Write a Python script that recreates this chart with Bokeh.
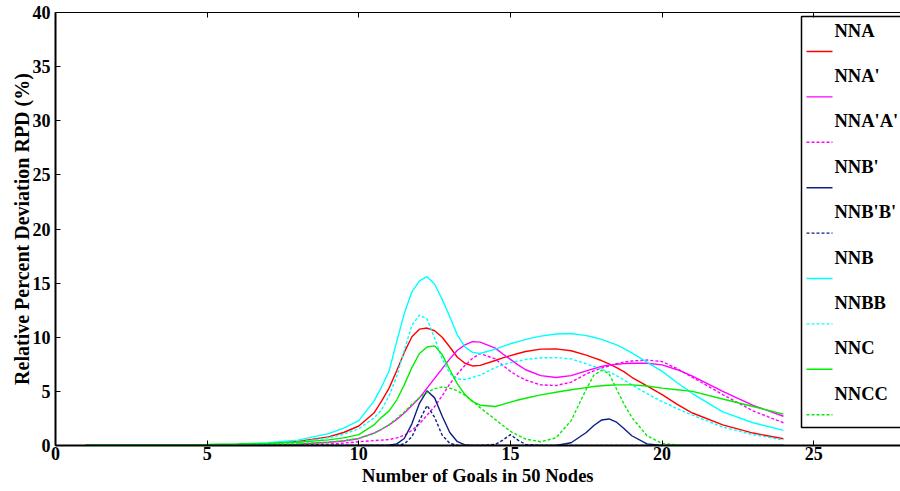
from bokeh.plotting import figure
from bokeh.models import Range1d, LinearAxis, FixedTicker, Label
from bokeh.embed import file_html
from bokeh.resources import INLINE

# Number of goals (shared sample positions for every series)
goals = [1, 2, 3, 4, 5, 6, 7, 8, 9, 9.5, 10, 10.5, 10.75, 11, 11.25, 11.5, 11.75,
         12, 12.25, 12.5, 12.75, 13, 13.25, 13.5, 13.75, 14, 14.5, 14.75, 15, 15.25,
         15.5, 16, 16.5, 17, 17.5, 17.75, 18, 18.25, 18.5, 18.75, 19, 19.5, 20, 20.5,
         21, 22, 23, 24]

# Relative percent deviation (%) per method
nna = [0.01, 0.01, 0.02, 0.03, 0.05, 0.09, 0.18, 0.38, 0.8, 1.2, 1.8, 3.0, 4.1, 5.3,
       6.9, 8.6, 10.05, 10.75, 10.85, 10.6, 10.0, 9.1, 8.15, 7.6, 7.35, 7.4, 7.85, 8.1,
       8.3, 8.5, 8.68, 8.9, 8.93, 8.75, 8.35, 8.1, 7.85, 7.55, 7.2, 6.8, 6.3, 5.5, 4.7,
       3.8, 3.0, 1.9, 1.15, 0.62]
nna_p = [0.0, 0.0, 0.01, 0.01, 0.02, 0.03, 0.06, 0.13, 0.3, 0.42, 0.65, 1.15, 1.5, 1.9,
         2.4, 3.0, 3.7, 4.4, 5.3, 6.2, 7.1, 8.0, 8.8, 9.3, 9.6, 9.55, 9.0, 8.45, 7.95,
         7.45, 7.0, 6.45, 6.28, 6.45, 6.9, 7.1, 7.3, 7.42, 7.5, 7.56, 7.6, 7.6, 7.45,
         7.0, 6.4, 5.0, 3.7, 2.7]
nna_pp = [0.0, 0.0, 0.0, 0.01, 0.01, 0.01, 0.02, 0.05, 0.13, 0.22, 0.35, 0.45, 0.5,
          0.55, 0.7, 0.95, 1.4, 2.0, 2.8, 3.6, 4.6, 5.7, 6.6, 7.4, 8.05, 8.5, 8.0, 7.4,
          6.85, 6.4, 6.05, 5.6, 5.54, 5.85, 6.6, 6.9, 7.15, 7.35, 7.55, 7.7, 7.8, 7.9,
          7.75, 7.1, 6.3, 4.7, 3.2, 2.1]
nnb_p = [0, 0, 0, 0, 0, 0, 0, 0, 0, 0, 0, 0, 0, 0.02, 0.15, 0.65, 2.0, 3.9, 5.05, 4.4,
         2.7, 1.2, 0.35, 0.05, 0, 0, 0, 0, 0, 0, 0, 0, 0, 0.25, 1.2, 1.85, 2.35, 2.45,
         2.15, 1.55, 0.9, 0.15, 0, 0, 0, 0, 0, 0]
nnb_pp = [0, 0, 0, 0, 0, 0, 0, 0, 0, 0, 0, 0, 0, 0, 0, 0.15, 0.8, 2.3, 3.7, 2.6, 0.95,
          0.2, 0.02, 0, 0, 0, 0.1, 0.5, 1.0, 0.5, 0.1, 0, 0, 0, 0, 0, 0, 0, 0, 0, 0, 0,
          0, 0, 0, 0, 0, 0]
nnb = [0.02, 0.02, 0.03, 0.05, 0.08, 0.13, 0.25, 0.5, 1.1, 1.6, 2.3, 4.1, 5.4, 6.9, 9.6,
       12.2, 14.2, 15.2, 15.6, 14.9, 13.5, 11.9, 10.2, 9.1, 8.6, 8.5, 8.9, 9.15, 9.4,
       9.6, 9.8, 10.1, 10.3, 10.35, 10.15, 10.0, 9.8, 9.55, 9.3, 8.95, 8.55, 7.7, 6.85,
       5.8, 4.8, 3.1, 2.1, 1.4]
nnbb = [0.01, 0.01, 0.02, 0.03, 0.05, 0.08, 0.16, 0.33, 0.7, 1.05, 1.55, 2.55, 3.3, 4.6,
        6.4, 8.8, 11.1, 12.05, 11.7, 9.9, 8.0, 6.65, 6.15, 6.1, 6.28, 6.5, 7.2, 7.45,
        7.65, 7.8, 7.95, 8.1, 8.12, 8.0, 7.55, 7.3, 7.05, 6.8, 6.45, 6.05, 5.6, 4.8,
        4.05, 3.4, 2.8, 1.7, 1.0, 0.52]
nnc = [0.02, 0.03, 0.04, 0.06, 0.09, 0.14, 0.2, 0.3, 0.52, 0.7, 1.0, 1.9, 2.6, 3.2, 4.2,
       5.6, 7.2, 8.5, 9.1, 9.2, 8.4, 7.0, 5.7, 4.7, 4.05, 3.72, 3.6, 3.8, 4.0, 4.2, 4.37,
       4.68, 4.92, 5.15, 5.35, 5.45, 5.52, 5.57, 5.6, 5.6, 5.6, 5.5, 5.3, 5.15, 5.0,
       4.3, 3.6, 2.9]
nncc = [0.01, 0.01, 0.02, 0.02, 0.03, 0.05, 0.08, 0.15, 0.3, 0.45, 0.65, 1.1, 1.5, 1.9,
        2.5, 3.1, 3.8, 4.4, 4.9, 5.25, 5.4, 5.3, 5.05, 4.65, 4.1, 3.5, 2.4, 1.85, 1.3,
        0.95, 0.6, 0.35, 0.7, 2.3, 5.2, 6.5, 6.95, 6.65, 5.2, 3.8, 2.6, 0.9, 0.2, 0.05,
        0.02, 0.01, 0.01, 0.01]

names = ["NNA", "NNA'", "NNA'A'", "NNB'", "NNB'B'", "NNB", "NNBB", "NNC", "NNCC"]
values = [nna, nna_p, nna_pp, nnb_p, nnb_pp, nnb, nnbb, nnc, nncc]
colors = ["#ff0000", "#ff00ff", "#ff00ff", "#0d1f85", "#0d1f85",
          "#00ffff", "#00ffff", "#00ee00", "#00ee00"]
dashes = ["solid", "solid", "3 2", "solid", "3 2", "solid", "3 2", "solid", "3 2"]

x_ticks = [0, 5, 10, 15, 20, 25]
y_ticks = [0, 5, 10, 15, 20, 25, 30, 35, 40]

FONT = "Liberation Serif"
W, H = 900, 491
LEFT, RIGHT, TOP, BOTTOM = 55, 0, 12, 46
X_END = 27.86
Y_END = 40
frame_w = W - LEFT - RIGHT
frame_h = H - TOP - BOTTOM

p = figure(width=W, height=H, output_backend="svg", toolbar_location=None,
           x_range=Range1d(0, X_END), y_range=Range1d(0, Y_END),
           min_border_left=LEFT, min_border_right=RIGHT,
           min_border_top=TOP, min_border_bottom=BOTTOM)
p.grid.visible = False
p.outline_line_color = None
p.background_fill_color = "white"
p.border_fill_color = "white"

for ax, ticks in ((p.xaxis[0], x_ticks), (p.yaxis[0], y_ticks)):
    ax.ticker = FixedTicker(ticks=ticks)
    ax.major_tick_in = 5
    ax.major_tick_out = 0
    ax.minor_tick_line_color = None
    ax.axis_line_width = 2
    ax.major_tick_line_width = 1
    ax.major_label_text_font = FONT
    ax.major_label_text_font_style = "bold"
    ax.major_label_text_font_size = "18px"
    ax.major_label_text_color = "black"
    ax.axis_label_text_font = FONT
    ax.axis_label_text_font_style = "bold"
    ax.axis_label_text_color = "black"

p.xaxis.axis_label = "Number of Goals in 50 Nodes"
p.yaxis.axis_label = "Relative Percent Deviation RPD (%)"
p.xaxis.axis_label_text_font_size = "18.5px"
p.yaxis.axis_label_text_font_size = "20px"
p.xaxis.major_label_standoff = 1
p.xaxis.axis_label_standoff = 3
p.yaxis.major_label_standoff = 5
p.yaxis.axis_label_standoff = -3

# top border with mirrored ticks (no labels)
top_axis = LinearAxis(ticker=FixedTicker(ticks=x_ticks), major_tick_in=5,
                      major_tick_out=0, minor_tick_line_color=None,
                      axis_line_color="black", axis_line_width=1.2,
                      major_label_text_color=None, major_label_text_font_size="1px",
                      major_label_standoff=0)
p.add_layout(top_axis, "above")

for name, ys, c, d in zip(names, values, colors, dashes):
    p.line(goals, ys, line_color=c, line_width=1.4, line_dash=d)


# legend: label above its line sample, inside a panel open at the right edge
def sx(px):
    return X_END * (px - LEFT) / frame_w


def sy(py):
    return Y_END * (TOP + frame_h - py) / frame_h


p.line([sx(930), sx(801), sx(801), sx(930)], [sy(16), sy(16), sy(427), sy(427)],
       line_color="black", line_width=1.5)
row_h = 45.4
for i, (name, c, d) in enumerate(zip(names, colors, dashes)):
    ty = 30 + i * row_h
    ly = 51 + i * row_h
    p.add_layout(Label(x=sx(834), y=sy(ty), text=name, text_font=FONT,
                       text_font_style="bold", text_font_size="18.5px",
                       text_baseline="middle", text_align="left",
                       text_color="black"))
    p.segment(x0=[sx(806)], y0=[sy(ly)], x1=[sx(832)], y1=[sy(ly)],
              line_color=c, line_width=1.4, line_dash=d)

open("out.html", "w").write(file_html(p, INLINE))
